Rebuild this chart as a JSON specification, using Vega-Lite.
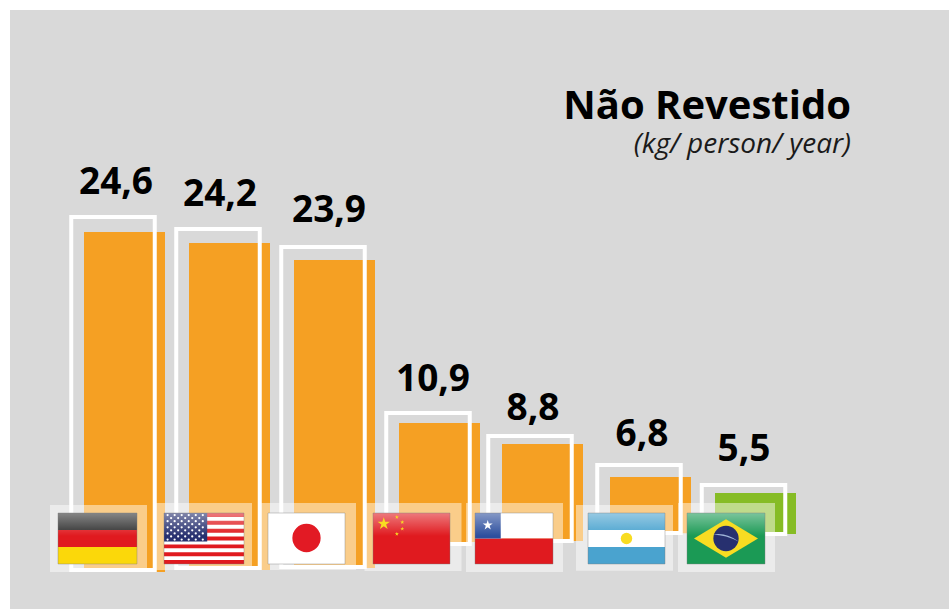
{
"$schema":"https://vega.github.io/schema/vega-lite/v6.json",
"width":939,"height":599,
"autosize":{"type":"none"},
"padding":{"left":10,"top":10,"right":0,"bottom":0},
"background":"white",
"view":{"fill":"#d9d9d9","stroke":null},
"config":{"axis":{"disable":true}},
"title":{"text":"Não Revestido","subtitle":"(kg/ person/ year)","anchor":"end","frame":"group","orient":"top","offset":-149,"dx":-98,"fontSize":40,"font":"Open Sans","fontWeight":"bold","color":"#000000","subtitleFont":"Open Sans","subtitleFontStyle":"italic","subtitleFontSize":28,"subtitleColor":"#1a1a1a","subtitlePadding":4},
"datasets":{
"countries":[
{"rank":1,"country":"Alemanha","value":24.6,"label":"24,6","base":-3.8,"group":"peer","flagStart":0,"flagEnd":1},
{"rank":2,"country":"Estados Unidos","value":24.2,"label":"24,2","base":-3.6,"group":"peer","flagStart":2,"flagEnd":3},
{"rank":3,"country":"Japão","value":23.9,"label":"23,9","base":-3.4,"group":"peer","flagStart":4,"flagEnd":5},
{"rank":4,"country":"China","value":10.9,"label":"10,9","base":-0.8,"group":"peer","flagStart":6,"flagEnd":7},
{"rank":5,"country":"Chile","value":8.8,"label":"8,8","base":-0.7,"group":"peer","flagStart":8,"flagEnd":9},
{"rank":6,"country":"Argentina","value":6.8,"label":"6,8","base":0.1,"group":"peer","flagStart":10,"flagEnd":11},
{"rank":7,"country":"Brasil","value":5.5,"label":"5,5","base":0,"group":"brasil","flagStart":12,"flagEnd":13}
],
"flagParts":[
{"u0":0,"u1":1,"v0":0,"v1":0.3333,"tint":"black"},
{"u0":0,"u1":1,"v0":0.3333,"v1":0.6667,"tint":"red"},
{"u0":0,"u1":1,"v0":0.6667,"v1":1,"tint":"gold"},
{"u0":2,"u1":3,"v0":0,"v1":1,"tint":"white"},
{"u0":2,"u1":3,"v0":0,"v1":0.077,"tint":"red"},
{"u0":2,"u1":3,"v0":0.154,"v1":0.231,"tint":"red"},
{"u0":2,"u1":3,"v0":0.308,"v1":0.385,"tint":"red"},
{"u0":2,"u1":3,"v0":0.462,"v1":0.539,"tint":"red"},
{"u0":2,"u1":3,"v0":0.616,"v1":0.693,"tint":"red"},
{"u0":2,"u1":3,"v0":0.77,"v1":0.847,"tint":"red"},
{"u0":2,"u1":3,"v0":0.924,"v1":1,"tint":"red"},
{"u0":2,"u1":2.54,"v0":0,"v1":0.56,"tint":"navy"},
{"u0":4,"u1":5,"v0":0,"v1":1,"tint":"white"},
{"u0":6,"u1":7,"v0":0,"v1":1,"tint":"red"},
{"u0":8,"u1":9,"v0":0,"v1":0.5,"tint":"white"},
{"u0":8,"u1":9,"v0":0.5,"v1":1,"tint":"red"},
{"u0":8,"u1":8.33,"v0":0,"v1":0.5,"tint":"blue"},
{"u0":10,"u1":11,"v0":0,"v1":1,"tint":"sky"},
{"u0":10,"u1":11,"v0":0.3333,"v1":0.6667,"tint":"white"},
{"u0":12,"u1":13,"v0":0,"v1":1,"tint":"green"}
],
"flagEmblems":[
{"u":2.045,"v":0.04,"kind":"tiny","tint":"white"},{"u":2.133,"v":0.04,"kind":"tiny","tint":"white"},{"u":2.221,"v":0.04,"kind":"tiny","tint":"white"},{"u":2.309,"v":0.04,"kind":"tiny","tint":"white"},{"u":2.397,"v":0.04,"kind":"tiny","tint":"white"},{"u":2.485,"v":0.04,"kind":"tiny","tint":"white"},
{"u":2.089,"v":0.1,"kind":"tiny","tint":"white"},{"u":2.177,"v":0.1,"kind":"tiny","tint":"white"},{"u":2.265,"v":0.1,"kind":"tiny","tint":"white"},{"u":2.353,"v":0.1,"kind":"tiny","tint":"white"},{"u":2.441,"v":0.1,"kind":"tiny","tint":"white"},
{"u":2.045,"v":0.16,"kind":"tiny","tint":"white"},{"u":2.133,"v":0.16,"kind":"tiny","tint":"white"},{"u":2.221,"v":0.16,"kind":"tiny","tint":"white"},{"u":2.309,"v":0.16,"kind":"tiny","tint":"white"},{"u":2.397,"v":0.16,"kind":"tiny","tint":"white"},{"u":2.485,"v":0.16,"kind":"tiny","tint":"white"},
{"u":2.089,"v":0.22,"kind":"tiny","tint":"white"},{"u":2.177,"v":0.22,"kind":"tiny","tint":"white"},{"u":2.265,"v":0.22,"kind":"tiny","tint":"white"},{"u":2.353,"v":0.22,"kind":"tiny","tint":"white"},{"u":2.441,"v":0.22,"kind":"tiny","tint":"white"},
{"u":2.045,"v":0.28,"kind":"tiny","tint":"white"},{"u":2.133,"v":0.28,"kind":"tiny","tint":"white"},{"u":2.221,"v":0.28,"kind":"tiny","tint":"white"},{"u":2.309,"v":0.28,"kind":"tiny","tint":"white"},{"u":2.397,"v":0.28,"kind":"tiny","tint":"white"},{"u":2.485,"v":0.28,"kind":"tiny","tint":"white"},
{"u":2.089,"v":0.34,"kind":"tiny","tint":"white"},{"u":2.177,"v":0.34,"kind":"tiny","tint":"white"},{"u":2.265,"v":0.34,"kind":"tiny","tint":"white"},{"u":2.353,"v":0.34,"kind":"tiny","tint":"white"},{"u":2.441,"v":0.34,"kind":"tiny","tint":"white"},
{"u":2.045,"v":0.4,"kind":"tiny","tint":"white"},{"u":2.133,"v":0.4,"kind":"tiny","tint":"white"},{"u":2.221,"v":0.4,"kind":"tiny","tint":"white"},{"u":2.309,"v":0.4,"kind":"tiny","tint":"white"},{"u":2.397,"v":0.4,"kind":"tiny","tint":"white"},{"u":2.485,"v":0.4,"kind":"tiny","tint":"white"},
{"u":2.089,"v":0.46,"kind":"tiny","tint":"white"},{"u":2.177,"v":0.46,"kind":"tiny","tint":"white"},{"u":2.265,"v":0.46,"kind":"tiny","tint":"white"},{"u":2.353,"v":0.46,"kind":"tiny","tint":"white"},{"u":2.441,"v":0.46,"kind":"tiny","tint":"white"},
{"u":2.045,"v":0.52,"kind":"tiny","tint":"white"},{"u":2.133,"v":0.52,"kind":"tiny","tint":"white"},{"u":2.221,"v":0.52,"kind":"tiny","tint":"white"},{"u":2.309,"v":0.52,"kind":"tiny","tint":"white"},{"u":2.397,"v":0.52,"kind":"tiny","tint":"white"},{"u":2.485,"v":0.52,"kind":"tiny","tint":"white"},
{"u":4.5,"v":0.49,"kind":"disc","tint":"crimson"},
{"u":6.14,"v":0.21,"kind":"bigStar","tint":"yellow"},
{"u":6.31,"v":0.08,"kind":"smallStar","tint":"yellow"},
{"u":6.38,"v":0.18,"kind":"smallStar","tint":"yellow"},
{"u":6.38,"v":0.31,"kind":"smallStar","tint":"yellow"},
{"u":6.31,"v":0.41,"kind":"smallStar","tint":"yellow"},
{"u":8.163,"v":0.24,"kind":"chileStar","tint":"white"},
{"u":10.5,"v":0.5,"kind":"sun","tint":"yellow"},
{"u":12.5,"v":0.5,"kind":"rhombus","tint":"yellow"},
{"u":12.5,"v":0.5,"kind":"globe","tint":"navy"},
{"u":12.5,"v":0.5,"kind":"sash","tint":"pale"}
]
},
"layer":[
{"data":{"name":"countries"},
 "mark":{"type":"bar","width":81,"orient":"vertical"},
 "encoding":{
  "x":{"field":"rank","type":"quantitative","axis":null,"scale":{"domain":[1,2,3,4,5,6,7],"range":[114.5,219.5,324.5,429.5,532.5,640.5,745.5],"nice":false,"zero":false,"padding":0}},
  "y":{"field":"value","type":"quantitative","axis":null,"scale":{"domain":[-3.8,-3.6,-3.4,-0.8,-0.7,0,5.5,6.8,8.8,10.9,23.9,24.2,24.6],"range":[562,560,558,532,531,524,483,467,434,413,250,233,222],"nice":false,"zero":false}},
  "y2":{"field":"base"},
  "color":{"field":"group","type":"nominal","legend":null,"scale":{"domain":["peer","brasil"],"range":["#f5a023","#86bc25"]}}
 }},
{"data":{"name":"countries"},
 "mark":{"type":"bar","width":83.5,"orient":"vertical","fill":"transparent","stroke":"#ffffff","strokeWidth":4},
 "encoding":{
  "x":{"field":"rank","type":"quantitative","axis":null,"scale":{"domain":[1,2,3,4,5,6,7],"range":[103,208,313,418,520,629,733.5],"nice":false,"zero":false,"padding":0}},
  "y":{"field":"value","type":"quantitative","axis":null,"scale":{"domain":[-3.8,-3.6,-3.4,-0.8,-0.7,0,5.5,6.8,8.8,10.9,23.9,24.2,24.6],"range":[560,558,557,534,531,524,475,455,426,403,237,219,207],"nice":false,"zero":false}},
  "y2":{"field":"base"}
 }},
{"data":{"name":"countries"},
 "mark":{"type":"text","font":"Open Sans","fontWeight":"bold","fontSize":37,"baseline":"alphabetic","align":"center","color":"#000000"},
 "encoding":{
  "x":{"field":"rank","type":"quantitative","axis":null,"scale":{"domain":[1,2,3,4,5,6,7],"range":[106,210,319,423,523,632,734],"nice":false,"zero":false}},
  "y":{"field":"value","type":"quantitative","axis":null,"scale":{"domain":[5.5,6.8,8.8,10.9,23.9,24.2,24.6],"range":[451,436,410,381,212,196,184],"nice":false,"zero":false}},
  "text":{"field":"label"}
 }},
{"data":{"name":"countries"},
 "mark":{"type":"bar","width":97,"orient":"vertical","color":"#ffffff","opacity":0.47},
 "encoding":{
  "x":{"field":"rank","type":"quantitative","axis":null,"scale":{"domain":[1,2,3,4,5,6,7],"range":[88.5,193.5,297.5,403,504.5,614.5,716.5],"nice":false,"zero":false,"padding":0}},
  "y":{"field":"value","type":"quantitative","axis":null,"scale":{"domain":[-3.8,-3.6,-3.4,-0.8,-0.7,0,5.5,6.8,8.8,10.9,23.9,24.2,24.6],"range":[562,560,560,561,562,562,493,495,493,493,493,493,495],"nice":false,"zero":false}},
  "y2":{"field":"base"}
 }},
{"layer":[
 {"data":{"name":"flagParts"},
  "mark":{"type":"rect"},
  "encoding":{
   "x":{"field":"u0","type":"quantitative","axis":null},
   "x2":{"field":"u1"},
   "y":{"field":"v0","type":"quantitative","axis":null},
   "y2":{"field":"v1"},
   "color":{"field":"tint","type":"nominal","legend":null}
  }},
 {"data":{"name":"countries"},
  "mark":{"type":"rect","fill":{"gradient":"linear","x1":0,"y1":0,"x2":0,"y2":1,"stops":[{"offset":0,"color":"rgba(255,255,255,0.42)"},{"offset":1,"color":"rgba(255,255,255,0)"}]}},
  "encoding":{
   "x":{"field":"flagStart","type":"quantitative","axis":null},
   "x2":{"field":"flagEnd"},
   "y":{"datum":0,"type":"quantitative","axis":null},
   "y2":{"datum":0.45}
  }},
 {"data":{"name":"flagEmblems"},
  "mark":{"type":"point","filled":true,"opacity":1},
  "encoding":{
   "x":{"field":"u","type":"quantitative","axis":null},
   "y":{"field":"v","type":"quantitative","axis":null},
   "color":{"field":"tint","type":"nominal","legend":null},
   "shape":{"field":"kind","type":"nominal","legend":null,"scale":{"domain":["tiny","disc","bigStar","smallStar","chileStar","sun","rhombus","globe","sash"],"range":["circle","circle","M0,-1L.22,-.31L.95,-.31L.36,.12L.59,.81L0,.38L-.59,.81L-.36,.12L-.95,-.31L-.22,-.31Z","M0,-1L.22,-.31L.95,-.31L.36,.12L.59,.81L0,.38L-.59,.81L-.36,.12L-.95,-.31L-.22,-.31Z","M0,-1L.22,-.31L.95,-.31L.36,.12L.59,.81L0,.38L-.59,.81L-.36,.12L-.95,-.31L-.22,-.31Z","circle","M-1,0L0,-.6L1,0L0,.6Z","circle","M-1,-.3Q0,-.5 1,.25Q0,-.25 -1,-.3Z"]}},
   "size":{"field":"kind","type":"nominal","legend":null,"scale":{"type":"ordinal","domain":["tiny","disc","bigStar","smallStar","chileStar","sun","rhombus","globe","sash"],"range":[5,800,170,18,110,130,4096,640,680]}}
  }},
 {"data":{"name":"countries"},
  "mark":{"type":"rect","fill":"transparent","stroke":"#7f7f7f","strokeOpacity":0.4,"strokeWidth":1},
  "encoding":{
   "x":{"field":"flagStart","type":"quantitative","axis":null,"scale":{"domain":[0,1,2,3,4,5,6,7,8,9,10,11,12,13],"range":[48,127,154,234,258,335,363,440,465,543,578,655,677,755],"nice":false,"zero":false,"padding":0}},
   "x2":{"field":"flagEnd"},
   "y":{"datum":0,"type":"quantitative","axis":null,"scale":{"domain":[0,1],"range":[503,554],"nice":false,"zero":false}},
   "y2":{"datum":1},
   "color":{"field":"country","type":"nominal","legend":null,"scale":{"domain":["black","red","gold","white","navy","blue","sky","green","crimson","yellow","pale"],"range":["#2f2f2f","#e01a1f","#fbd80a","#ffffff","#27306f","#2d4f9e","#4aa3cf","#1b9a55","#e21a24","#f8dc22","#9fb4d8"]}}
  }}
 ]}
],
"resolve":{"scale":{"x":"independent","y":"independent","color":"independent"}}
}
